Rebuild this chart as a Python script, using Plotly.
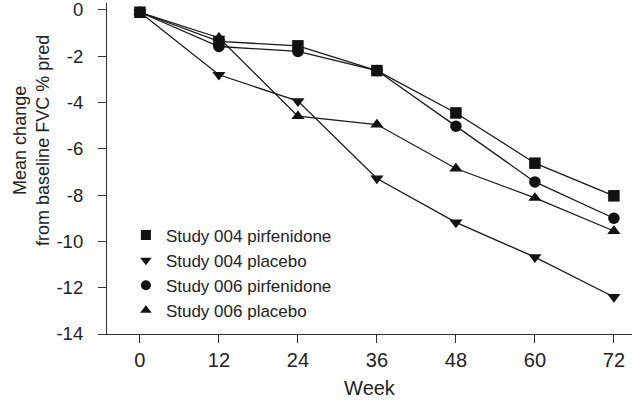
import plotly.graph_objects as go

weeks = [0, 12, 24, 36, 48, 60, 72]
s004_pirf = [-0.1, -1.36, -1.55, -2.62, -4.45, -6.62, -8.03]
s004_plac = [-0.1, -2.8, -3.94, -7.28, -9.18, -10.68, -12.4]
s006_pirf = [-0.1, -1.58, -1.79, -2.62, -5.02, -7.43, -9.0]
s006_plac = [-0.1, -1.2, -4.59, -4.95, -6.85, -8.12, -9.55]

series = [
    ("Study 004 pirfenidone", s004_pirf, "square"),
    ("Study 004 placebo", s004_plac, "triangle-down"),
    ("Study 006 pirfenidone", s006_pirf, "circle"),
    ("Study 006 placebo", s006_plac, "triangle-up"),
]

xticks = [0, 12, 24, 36, 48, 60, 72]
yticks = [0, -2, -4, -6, -8, -10, -12, -14]
y_title = "Mean change<br>from baseline FVC % pred"
x_title = "Week"

FONT = "Arial, Liberation Sans, Helvetica, sans-serif"
fig = go.Figure()
for name, vals, sym in series:
    fig.add_trace(go.Scatter(
        x=weeks, y=vals, mode="lines+markers", name=name, showlegend=False,
        line=dict(color="#1a1a1a", width=1.3),
        marker=dict(symbol=sym, size=11.5, color="#111111"),
    ))
for name, vals, sym in series:
    fig.add_trace(go.Scatter(
        x=[None], y=[None], mode="markers", name=name,
        marker=dict(symbol=sym, size=10, color="#111111"),
    ))

fig.update_layout(
    width=640, height=404,
    margin=dict(l=107, r=8, t=3, b=70),
    paper_bgcolor="white", plot_bgcolor="white",
    font=dict(family=FONT, size=17, color="#222222"),
    showlegend=True,
    legend=dict(x=0.036, y=0.352, xanchor="left", yanchor="top",
                bgcolor="rgba(0,0,0,0)", font=dict(size=17, color="#222222"),
                tracegroupgap=0),
    xaxis=dict(range=[-5, 74.75], tickmode="array", tickvals=xticks,
               ticktext=[str(v) for v in xticks], automargin=False,
               tickfont=dict(size=20), ticklabeloverflow="allow",
               showgrid=False, zeroline=False, showline=True, linecolor="#333333",
               linewidth=1.2, ticks="outside", ticklen=8, tickcolor="#333333",
               title=dict(text=x_title, standoff=10, font=dict(size=20))),
    yaxis=dict(range=[-14, 0.30], tickmode="array", tickvals=yticks,
               ticktext=[str(v) for v in yticks], automargin=False,
               tickfont=dict(size=18.5), ticklabeloverflow="allow",
               ticklabelstandoff=11,
               showgrid=False, zeroline=False, showline=True, linecolor="#333333",
               linewidth=1.2, ticks="outside", ticklen=8, tickcolor="#333333"),
    annotations=[dict(text=y_title, xref="paper", yref="paper", x=-0.145, y=0.586,
                      xanchor="center", yanchor="middle", textangle=-90,
                      showarrow=False, font=dict(size=18, color="#222222"))],
)

fig.write_html("out.html", config={"displayModeBar": False},
               post_script="document.body.style.margin='0';")
